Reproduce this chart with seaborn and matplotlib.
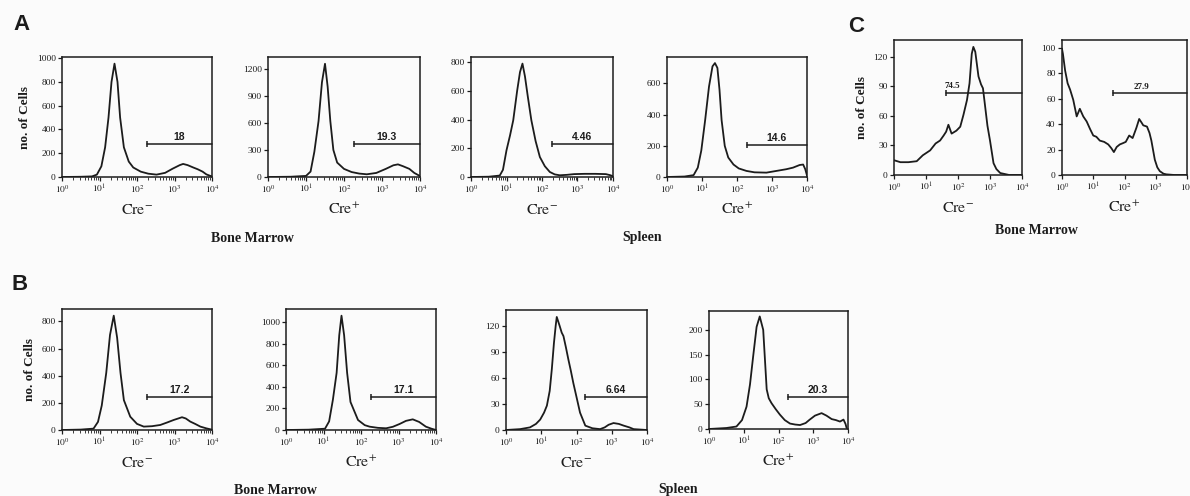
import numpy as np
import pandas as pd
import matplotlib
matplotlib.use('Agg')
import matplotlib.pyplot as plt
import seaborn as sns
from matplotlib.ticker import FixedLocator, FixedFormatter, LogLocator, NullFormatter

sns.set_style('ticks')
plt.rcParams['font.family'] = ['Liberation Serif', 'DejaVu Serif']
plt.rcParams['mathtext.fontset'] = 'stix'

# --- histogram traces: log10 fluorescence (decades) vs. number of cells ---
# A: bone marrow / spleen, Cre- and Cre+
A1_LOG = [0, 0.5, 0.8, 0.93, 1.05, 1.15, 1.24, 1.32, 1.40, 1.48, 1.55, 1.65, 1.78, 1.9, 2.1, 2.3,
          2.52, 2.75, 2.95, 3.14, 3.23, 3.35, 3.5, 3.62, 3.75, 3.85, 3.95, 4.0]
A1_CNT = [0, 2, 5, 20, 90, 250, 500, 800, 954, 800, 500, 250, 130, 80, 45, 28,
          20, 35, 70, 100, 110, 100, 80, 65, 45, 22, 10, 5]
A2_LOG = [0, 0.6, 1.0, 1.12, 1.22, 1.33, 1.42, 1.50, 1.57, 1.64, 1.72, 1.82, 2.0, 2.2, 2.4, 2.6,
          2.85, 3.1, 3.3, 3.42, 3.55, 3.72, 3.85, 3.98]
A2_CNT = [0, 3, 12, 60, 280, 620, 1050, 1255, 1000, 620, 300, 160, 90, 55, 38, 30,
          45, 90, 130, 140, 120, 90, 45, 15]
A3_LOG = [0, 0.5, 0.81, 0.9, 1.0, 1.1, 1.19, 1.3, 1.38, 1.45, 1.52, 1.6, 1.7, 1.82, 1.94, 2.08,
          2.22, 2.36, 2.5, 2.7, 2.9, 3.2, 3.5, 3.8, 3.93, 4.0]
A3_CNT = [0, 2, 10, 50, 186, 290, 395, 600, 730, 789, 700, 560, 395, 250, 139, 75,
          35, 18, 12, 15, 20, 22, 22, 20, 12, 5]
A4_LOG = [0, 0.5, 0.76, 0.88, 0.98, 1.09, 1.2, 1.3, 1.37, 1.44, 1.5, 1.56, 1.65, 1.75, 1.9, 2.05,
          2.27, 2.5, 2.84, 3.1, 3.41, 3.6, 3.79, 3.89, 3.95, 4.0]
A4_CNT = [0, 3, 12, 60, 170, 365, 580, 710, 731, 700, 560, 365, 200, 125, 80, 55,
          39, 30, 28, 38, 50, 60, 77, 80, 50, 10]

# C: bone marrow, Cre- and Cre+
C1_LOG = [0, 0.2, 0.45, 0.71, 0.9, 1.13, 1.3, 1.44, 1.55, 1.63, 1.70, 1.8, 1.95, 2.07, 2.17, 2.28,
          2.36, 2.43, 2.48, 2.54, 2.6, 2.64, 2.72, 2.78, 2.85, 2.92, 3.0, 3.11, 3.2, 3.32, 3.6, 4.0]
C1_CNT = [15, 13, 13, 14, 20, 25, 32, 35, 40, 44, 51, 42, 45, 49, 61, 76,
          93, 123, 130, 125, 110, 100, 92, 88, 69, 50, 35, 12, 6, 2, 0, 0]
C2_LOG = [0, 0.03, 0.1, 0.18, 0.26, 0.36, 0.47, 0.57, 0.68, 0.79, 0.9, 1.0, 1.1, 1.21, 1.35, 1.48,
          1.58, 1.66, 1.75, 1.85, 1.95, 2.04, 2.15, 2.26, 2.38, 2.47, 2.55, 2.6, 2.72, 2.8, 2.86,
          2.97, 3.05, 3.13, 3.25, 3.34, 3.6, 4.0]
C2_CNT = [99, 95, 82, 72, 67, 59, 46, 52, 46, 42, 36, 31, 30, 27, 26, 24,
          21, 18, 22, 24, 25, 26, 31, 29, 37, 44, 41, 39, 38, 33, 27,
          12, 6, 3, 1, 0.5, 0, 0]

# B: bone marrow / spleen, Cre- and Cre+
B1_LOG = [0, 0.5, 0.84, 0.96, 1.06, 1.18, 1.28, 1.38, 1.47, 1.56, 1.65, 1.82, 2.0, 2.18, 2.4, 2.62,
          2.8, 2.98, 3.2, 3.3, 3.42, 3.55, 3.69, 3.85, 3.96, 4.0]
B1_CNT = [0, 3, 10, 60, 180, 421, 700, 842, 680, 421, 220, 98, 45, 25, 28, 37,
          55, 74, 94, 85, 62, 45, 25, 12, 5, 2]
B2_LOG = [0, 0.6, 1.04, 1.15, 1.25, 1.35, 1.42, 1.48, 1.55, 1.63, 1.72, 1.92, 2.1, 2.23, 2.45, 2.67,
          2.85, 3.03, 3.2, 3.38, 3.55, 3.73, 3.88, 4.0]
B2_CNT = [0, 3, 12, 80, 280, 531, 880, 1062, 880, 531, 260, 93, 45, 31, 20, 16,
          30, 56, 85, 99, 75, 31, 12, 0]
B3_LOG = [0, 0.4, 0.68, 0.85, 0.97, 1.08, 1.16, 1.24, 1.3, 1.36, 1.41, 1.44, 1.48, 1.52, 1.58, 1.63,
          1.7, 1.77, 1.84, 1.91, 2.0, 2.1, 2.25, 2.45, 2.67, 2.8, 2.91, 3.05, 3.2, 3.34, 3.5, 3.62, 4.0]
B3_CNT = [0, 1, 3, 7, 12, 20, 28, 45, 70, 100, 120, 130, 125, 120, 112, 108,
          95, 81, 68, 54, 38, 20, 5, 2, 1, 3, 6, 8, 7, 5, 3, 1, 0]
B4_LOG = [0, 0.5, 0.79, 0.95, 1.08, 1.18, 1.27, 1.37, 1.46, 1.56, 1.61, 1.66, 1.72, 1.8, 1.92, 2.04,
          2.18, 2.33, 2.48, 2.62, 2.78, 2.9, 3.05, 3.24, 3.38, 3.53, 3.65, 3.77, 3.87, 3.93, 3.96]
B4_CNT = [0, 2, 5, 18, 45, 90, 146, 206, 227, 200, 140, 80, 62, 52, 40, 29,
          18, 11, 9, 8, 12, 19, 27, 32, 27, 20, 18, 15, 19, 10, 2]

# gates: start (decades), height (cells), percentage label
GATE_START = {'A1': 2.26, 'A2': 2.26, 'A3': 2.27, 'A4': 2.28, 'C1': 1.63, 'C2': 1.62,
              'B1': 2.27, 'B2': 2.26, 'B3': 2.23, 'B4': 2.27}
GATE_Y = {'A1': 280, 'A2': 362, 'A3': 227, 'A4': 206, 'C1': 83, 'C2': 64,
          'B1': 246, 'B2': 310, 'B3': 38, 'B4': 65}
GATE_LABEL = {'A1': '18', 'A2': '19.3', 'A3': '4.46', 'A4': '14.6', 'C1': '74.5', 'C2': '27.9',
              'B1': '17.2', 'B2': '17.1', 'B3': '6.64', 'B4': '20.3'}

Y_TICKS = {'A1': [0, 200, 400, 600, 800, 1000], 'A2': [0, 300, 600, 900, 1200],
           'A3': [0, 200, 400, 600, 800], 'A4': [0, 200, 400, 600],
           'C1': [0, 30, 60, 90, 120], 'C2': [0, 20, 40, 60, 80, 100],
           'B1': [0, 200, 400, 600, 800], 'B2': [0, 200, 400, 600, 800, 1000],
           'B3': [0, 30, 60, 90, 120], 'B4': [0, 50, 100, 150, 200]}
Y_MAX = {'A1': 1010, 'A2': 1330, 'A3': 835, 'A4': 770, 'C1': 137, 'C2': 106,
         'B1': 891, 'B2': 1124, 'B3': 138, 'B4': 238}
GENOTYPE = {'A1': '-', 'A2': '+', 'A3': '-', 'A4': '+', 'C1': '-', 'C2': '+',
            'B1': '-', 'B2': '+', 'B3': '-', 'B4': '+'}

TRACES = {'A1': (A1_LOG, A1_CNT), 'A2': (A2_LOG, A2_CNT), 'A3': (A3_LOG, A3_CNT),
          'A4': (A4_LOG, A4_CNT), 'C1': (C1_LOG, C1_CNT), 'C2': (C2_LOG, C2_CNT),
          'B1': (B1_LOG, B1_CNT), 'B2': (B2_LOG, B2_CNT), 'B3': (B3_LOG, B3_CNT),
          'B4': (B4_LOG, B4_CNT)}

# panel boxes in pixels: x0, y0 (top), x1, y1 (bottom)
BOX = {'A1': (62, 57, 212, 177), 'A2': (268, 57, 420, 177), 'A3': (471, 57, 613, 177),
       'A4': (667, 57, 807, 177), 'C1': (894, 40, 1022, 175), 'C2': (1062, 40, 1187, 175),
       'B1': (62, 309, 212, 430), 'B2': (286, 309, 436, 430), 'B3': (506, 310, 647, 430),
       'B4': (709, 311, 848, 429)}

W, H = 1190, 496
INK = '#1c1c1c'

fig = plt.figure(figsize=(W / 100, H / 100), dpi=100)
fig.patch.set_facecolor('#fbfbfb')

for key, (x0, y0, x1, y1) in BOX.items():
    ax = fig.add_axes([x0 / W, 1 - y1 / H, (x1 - x0) / W, (y1 - y0) / H])
    ax.set_facecolor('#fbfbfb')
    logs, cnts = TRACES[key]
    df = pd.DataFrame({'fl': np.power(10.0, logs), 'cells': cnts})
    sns.lineplot(data=df, x='fl', y='cells', ax=ax, estimator=None, sort=False,
                 color=INK, lw=1.3)
    ax.set_xscale('log')
    ax.set_xlim(1, 1e4)
    ax.set_ylim(0, Y_MAX[key])
    ax.set_xlabel('')
    ax.set_ylabel('')

    ax.xaxis.set_major_locator(FixedLocator([1, 10, 100, 1000, 10000]))
    ax.xaxis.set_major_formatter(FixedFormatter([r'$10^{0}$', r'$10^{1}$', r'$10^{2}$',
                                                 r'$10^{3}$', r'$10^{4}$']))
    ax.xaxis.set_minor_locator(LogLocator(base=10, subs=np.arange(2, 10)))
    ax.xaxis.set_minor_formatter(NullFormatter())
    ax.set_yticks(Y_TICKS[key])
    ax.tick_params(axis='both', which='major', labelsize=6.8, length=3, width=0.9,
                   color=INK, labelcolor=INK, pad=1.5)
    ax.tick_params(axis='x', which='minor', length=1.8, width=0.6, color=INK)
    for sp in ax.spines.values():
        sp.set_visible(True)
        sp.set_linewidth(1.1)
        sp.set_color(INK)

    # gate bar
    g0 = GATE_START[key]
    gy = GATE_Y[key]
    ax.plot([10 ** g0, 1e4], [gy, gy], color=INK, lw=1.1, clip_on=False)
    ax.plot([10 ** g0], [gy], marker='|', ms=5, mew=1.1, color=INK)
    if key.startswith('C'):
        lx = 10 ** (g0 + 0.2) if key == 'C1' else 10 ** 2.54
        ax.annotate(GATE_LABEL[key], (lx, gy), xytext=(0, 2), textcoords='offset points',
                    ha='center', va='bottom', fontsize=6.5, fontweight='bold', color=INK)
    else:
        lx = 10 ** ((g0 + 4) / 2)
        ax.annotate(GATE_LABEL[key], (lx, gy), xytext=(0, 1.5), textcoords='offset points',
                    ha='center', va='bottom', fontsize=7.5, fontweight='bold', color=INK,
                    family='Liberation Sans')

    if key in ('A1', 'B1', 'C1'):
        ax.set_ylabel('no. of Cells', fontsize=9.5, fontweight='bold', color=INK, labelpad=4)

    # genotype under each panel
    cx = (x0 + x1) / 2 / W
    cy = 1 - (y1 + 33) / H
    fig.text(cx, cy, r'$\mathrm{Cre}^{%s}$' % ('-' if GENOTYPE[key] == '-' else '+'),
             ha='center', va='center', fontsize=11.5, color=INK)

# tissue captions
for txt, x, y in [('Bone Marrow', 252, 238), ('Spleen', 642, 237), ('Bone Marrow', 1036, 231),
                  ('Bone Marrow', 275, 490), ('Spleen', 678, 489)]:
    fig.text(x / W, 1 - y / H, txt, ha='center', va='center', fontsize=10,
             fontweight='bold', color=INK)

# panel letters
for txt, x, y in [('A', 22, 24), ('B', 20, 284), ('C', 856, 26)]:
    fig.text(x / W, 1 - y / H, txt, ha='center', va='center', fontsize=16,
             fontweight='bold', color=INK, family='Liberation Sans')

fig.savefig('out.png', dpi=100, facecolor=fig.get_facecolor())
